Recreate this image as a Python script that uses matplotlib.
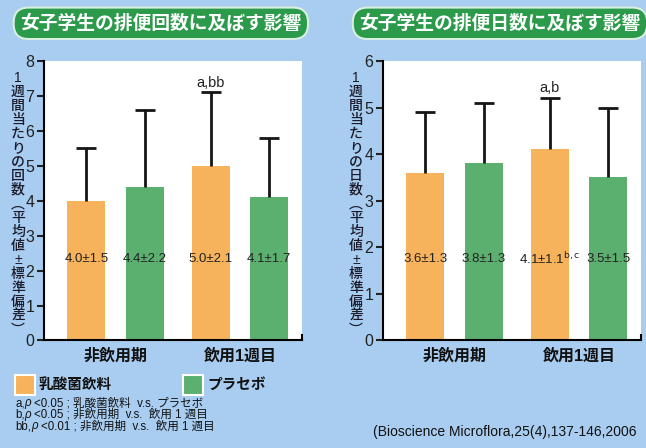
import matplotlib
matplotlib.use("Agg")
import matplotlib.pyplot as plt
from matplotlib.patches import Rectangle
import numpy as np

plt.rcParams['font.family'] = ['Liberation Sans', 'Noto Sans CJK JP']

# data
periods = ['非飲用期', '飲用1週目']
groups = ['乳酸菌飲料', 'プラセボ']
# count per week (mean, sd) -> [drink, placebo] for each period
count_mean = [[4.0, 4.4], [5.0, 4.1]]
count_sd = [[1.5, 2.2], [2.1, 1.7]]
# days per week
days_mean = [[3.6, 3.8], [4.1, 3.5]]
days_sd = [[1.3, 1.3], [1.1, 1.5]]
count_marks = ['', '', 'a,bb', '']
days_marks = ['', '', 'a,b', '']
days_sup = ['', '', 'b,c', '']

titles = ['女子学生の排便回数に及ぼす影響', '女子学生の排便日数に及ぼす影響']
ylabels = ['1週間当たりの回数︵平均値±標準偏差︶', '1週間当たりの日数︵平均値±標準偏差︶']
footnotes = [('a,', '<0.05 ; 乳酸菌飲料  v.s. プラセボ'),
             ('b,', '<0.05 ; 非飲用期  v.s.  飲用 1 週目'),
             ('bb,', '<0.01 ; 非飲用期  v.s.  飲用 1 週目')]
source = '(Bioscience Microflora,25(4),137-146,2006'

bg = '#a9cdf0'
orange = '#f7b25c'
green = '#5cb06f'
title_green = '#2b9a4b'

fig = plt.figure(figsize=(6.46, 4.48), dpi=100)
fig.patch.set_facecolor(bg)


def draw_panel(rect, means, sds, ymax, marks, sups):
    ax = fig.add_axes(rect)
    ax.set_facecolor('white')
    off = 0.235
    w = 0.305
    xs, ms, ss, cols = [], [], [], []
    for i in range(len(periods)):
        for j in range(len(groups)):
            xs.append(i + (j * 2 - 1) * off)
            ms.append(means[i][j])
            ss.append(sds[i][j])
            cols.append(orange if j == 0 else green)
    ax.bar(xs, ms, width=w, color=cols, edgecolor='none', zorder=2)
    eb = ax.errorbar(xs, ms, yerr=[np.zeros(len(ss)), ss], fmt='none', ecolor='#151515',
                     elinewidth=2, capsize=7.5, capthick=2, zorder=3)
    # only the upper cap is drawn in the original
    eb.lines[1][0].set_visible(False)
    for k in range(len(xs)):
        lab = f'{ms[k]:.1f}±{ss[k]:.1f}'
        if sups[k]:
            lab += r'$^{\mathrm{' + sups[k] + '}}$'
        ax.text(xs[k], 0.29, lab, transform=ax.get_xaxis_transform(),
                ha='center', va='center', fontsize=9.5, color='#222222', zorder=4)
        if marks[k]:
            ax.annotate(marks[k], (xs[k], ms[k] + ss[k]), xytext=(0, 2),
                        textcoords='offset points', ha='center', va='bottom',
                        fontsize=10.5, color='#222222')
    ax.set_xlim(-0.575, 1.5)
    ax.set_ylim(0, ymax)
    ax.set_yticks(range(0, ymax + 1))
    ax.set_xticks([])
    for s in ['top', 'right']:
        ax.spines[s].set_visible(False)
    for s in ['left', 'bottom']:
        ax.spines[s].set_linewidth(1.5)
    ax.axvline(1.5, ymax=0.02, color='black', lw=1.5, clip_on=False)
    ax.tick_params(axis='y', direction='out', length=5, width=1.5, labelsize=11.5,
                   pad=2, colors='#222222')
    for i, p in enumerate(periods):
        ax.text(i, -0.055, p, transform=ax.get_xaxis_transform(), ha='center',
                va='center', fontsize=11.5, fontweight='bold', color='#111111')
    return ax


ax1 = draw_panel([0.0681, 0.240, 0.3994, 0.624], count_mean, count_sd, 8,
                 count_marks, ['', '', '', ''])
ax2 = draw_panel([0.5929, 0.240, 0.3994, 0.624], days_mean, days_sd, 6,
                 days_marks, days_sup)

# titles in green rounded boxes
for x, t in zip([0.249, 0.774], titles):
    fig.text(x, 0.948, t, ha='center', va='center', fontsize=13.5, fontweight='bold',
             color='white',
             bbox=dict(boxstyle='round,pad=0.35,rounding_size=0.8', fc=title_green,
                       ec='#d8eedf', lw=1.5))

# vertical y labels
for x, t in zip([18 / 646, 356 / 646], ylabels):
    fig.text(x, 0.545, '\n'.join(t), ha='center', va='center', fontsize=10,
             fontweight='medium', color='#1a1a2a', linespacing=1.0)

# legend
for x, c, g in zip([15, 183], [orange, green], groups):
    fig.patches.append(Rectangle((x / 646, 1 - 395 / 448), 20 / 646, 20 / 448,
                                 transform=fig.transFigure, fc=c, ec='white', lw=1.5))
    fig.text((x + 24) / 646, 1 - 385 / 448, g, ha='left', va='center',
             fontsize=10.5, fontweight='bold', color='#111111')

# footnotes
renderer = fig.canvas.get_renderer()
for k, (pre, rest) in enumerate(footnotes):
    y = 1 - (403 + k * 11.5) / 448
    t1 = fig.text(15 / 646, y, pre, ha='left', va='center', fontsize=8.3, color='#111111')
    w1 = t1.get_window_extent(renderer).width
    t2 = fig.text((15 + w1) / 646, y, 'ρ ', ha='left', va='center', fontsize=8.3,
                  style='italic', color='#111111')
    w2 = t2.get_window_extent(renderer).width
    fig.text((15 + w1 + w2) / 646, y, rest, ha='left', va='center', fontsize=8.3,
             color='#111111')

fig.text(373 / 646, 1 - 432 / 448, source, ha='left', va='center', fontsize=10,
         color='#111111')

fig.savefig('out.png', dpi=100, facecolor=bg)
